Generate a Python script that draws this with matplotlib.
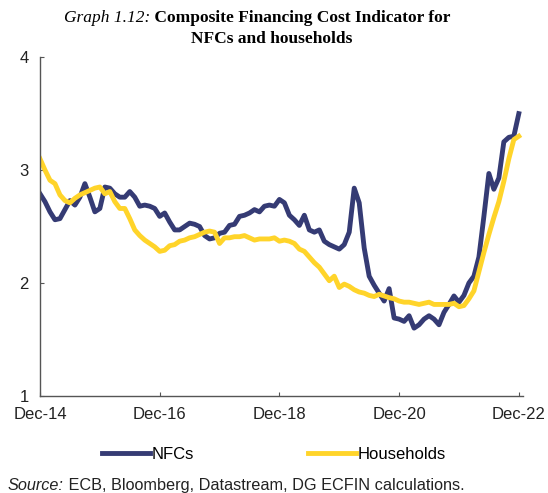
import matplotlib
matplotlib.use("Agg")
from matplotlib import pyplot as plt
import numpy as np

# monthly values, Dec-14 .. Dec-22
nfcs = [
    2.79, 2.72, 2.63, 2.56, 2.57, 2.65, 2.73, 2.69, 2.76, 2.88, 2.76, 2.63, 2.66,
    2.85, 2.84, 2.79, 2.76, 2.76, 2.81, 2.76, 2.68, 2.69, 2.68, 2.66, 2.59,
    2.62, 2.54, 2.47, 2.47, 2.50, 2.53, 2.52, 2.50, 2.42, 2.39, 2.40, 2.44,
    2.45, 2.51, 2.52, 2.59, 2.60, 2.62, 2.65, 2.63, 2.68, 2.69, 2.68, 2.74,
    2.71, 2.60, 2.56, 2.51, 2.60, 2.47, 2.45, 2.47, 2.37, 2.34, 2.32, 2.30,
    2.34, 2.45, 2.84, 2.71, 2.31, 2.06, 1.98, 1.91, 1.84, 1.95, 1.69, 1.68,
    1.66, 1.71, 1.60, 1.63, 1.68, 1.71, 1.68, 1.63, 1.74, 1.81, 1.885, 1.83,
    1.89, 2.00, 2.06, 2.23, 2.59, 2.97, 2.83, 2.93, 3.25, 3.29, 3.30, 3.50,
]
households = [
    3.10, 3.00, 2.91, 2.88, 2.78, 2.73, 2.71, 2.75, 2.78, 2.80, 2.82, 2.84, 2.85,
    2.79, 2.81, 2.72, 2.66, 2.66, 2.57, 2.47, 2.42, 2.38, 2.35, 2.32, 2.28,
    2.29, 2.33, 2.34, 2.37, 2.38, 2.40, 2.41, 2.43, 2.45, 2.46, 2.45, 2.35,
    2.40, 2.40, 2.41, 2.41, 2.42, 2.40, 2.38, 2.39, 2.39, 2.39, 2.40, 2.37,
    2.38, 2.37, 2.35, 2.30, 2.28, 2.23, 2.18, 2.14, 2.08, 2.02, 2.06, 1.96,
    1.99, 1.97, 1.94, 1.92, 1.91, 1.89, 1.88, 1.90, 1.885, 1.87, 1.86, 1.84,
    1.83, 1.83, 1.82, 1.81, 1.82, 1.83, 1.81, 1.81, 1.81, 1.81, 1.82, 1.79,
    1.80, 1.86, 1.93, 2.10, 2.27, 2.43, 2.58, 2.72, 2.90, 3.10, 3.27, 3.30,
]
tick_labels = ["Dec-14", "Dec-16", "Dec-18", "Dec-20", "Dec-22"]
tick_months = [0, 24, 48, 72, 96]

navy = "#353B74"
yellow = "#FFD42A"
sans = ["Liberation Sans", "DejaVu Sans"]
serif = ["Liberation Serif", "DejaVu Serif"]

plt.rcParams["font.family"] = sans

fig = plt.figure(figsize=(5.48, 4.93), dpi=100)
ax = fig.add_axes([0.073, 0.197, 0.881, 0.687])

months = np.arange(len(nfcs))
ax.plot(months, nfcs, color=navy, lw=3.5, label="NFCs")
ax.plot(months, households, color=yellow, lw=3.5, label="Households")

ax.set_xlim(0, 96.8)
ax.set_ylim(1, 4)
ax.set_yticks([1, 2, 3, 4])
ax.set_xticks(tick_months)
ax.set_xticklabels(tick_labels)
for s in ("top", "right"):
    ax.spines[s].set_visible(False)
for s in ("left", "bottom"):
    ax.spines[s].set_color("#555555")
    ax.spines[s].set_linewidth(1.0)
ax.tick_params(axis="both", direction="in", length=3, color="#555555",
               labelsize=12, colors="#222222")
ax.tick_params(axis="y", pad=8)
ax.tick_params(axis="x", pad=8)

fig.legend(loc="center", bbox_to_anchor=(0.5, 0.079), ncol=2, frameon=False,
           fontsize=12, handlelength=2.9, handletextpad=0.1, columnspacing=6.8)

# title, italic lead then bold
title_size = 12.5
t1 = fig.text(0.117, 0.955, "Graph 1.12:", family=serif, style="italic",
              fontsize=title_size, va="baseline", ha="left")
fig.canvas.draw()
bb = t1.get_window_extent()
fig.text(bb.x1 / fig.bbox.width, 0.955, " Composite Financing Cost Indicator for",
         family=serif, weight="bold", fontsize=title_size, va="baseline", ha="left")
fig.text(0.495, 0.912, "NFCs and households", family=serif, weight="bold",
         fontsize=title_size, va="baseline", ha="center")

# source line
src_size = 11.7
s1 = fig.text(0.014, 0.006, "Source:", style="italic", fontsize=src_size,
              va="baseline", ha="left", color="#222222")
fig.canvas.draw()
sb = s1.get_window_extent()
fig.text(sb.x1 / fig.bbox.width, 0.006, " ECB, Bloomberg, Datastream, DG ECFIN calculations.",
         fontsize=src_size, va="baseline", ha="left", color="#222222")

fig.savefig("out.png", dpi=100)
